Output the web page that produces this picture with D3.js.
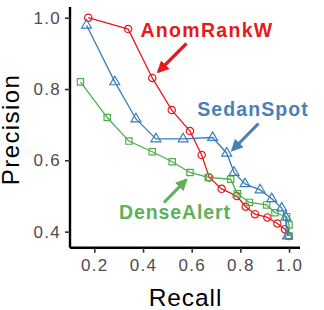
<!DOCTYPE html>
<html>
<head>
<meta charset="utf-8">
<script src="https://d3js.org/d3.v7.min.js"></script>
<style>
body { margin: 0; background: #fff; }
text { font-family: "Liberation Sans", Arial, sans-serif; }
</style>
</head>
<body>
<div id="svg"></div>
<script>
// precision / recall values
var anomX = [0.175, 0.339, 0.438, 0.518, 0.593, 0.641, 0.672, 0.723, 0.785, 0.822, 0.860, 0.911, 0.952, 0.983, 0.998];
var anomY = [1.000, 0.968, 0.831, 0.741, 0.682, 0.615, 0.552, 0.520, 0.500, 0.470, 0.449, 0.440, 0.423, 0.407, 0.388];

var sedanX = [0.168, 0.284, 0.371, 0.453, 0.565, 0.686, 0.744, 0.774, 0.819, 0.881, 0.929, 0.970, 0.987, 0.994];
var sedanY = [0.979, 0.820, 0.716, 0.660, 0.660, 0.664, 0.620, 0.566, 0.534, 0.517, 0.492, 0.466, 0.440, 0.388];

var denseX = [0.143, 0.253, 0.342, 0.438, 0.520, 0.593, 0.668, 0.760, 0.788, 0.837, 0.908, 0.942, 0.990, 1.000, 1.000];
var denseY = [0.820, 0.720, 0.654, 0.624, 0.596, 0.566, 0.552, 0.547, 0.506, 0.482, 0.475, 0.453, 0.442, 0.419, 0.388];

var xTicks = [0.2, 0.4, 0.6, 0.8, 1.0];
var yTicks = [0.4, 0.6, 0.8, 1.0];

var width = 324;
var height = 310;

var x = d3.scaleLinear().domain([0.1, 1.045]).range([70, 300]);
var y = d3.scaleLinear().domain([0.355, 1.03]).range([247.7, 7]);

var svg = d3.select("#svg")
	.append("svg")
	.attr("width", width)
	.attr("height", height);

// axes
var gx = svg.append("g")
	.attr("transform", "translate(0," + y.range()[0] + ")")
	.call(d3.axisBottom(x).tickValues(xTicks).tickFormat(d3.format(".1f")).tickSize(5).tickPadding(6));
var gy = svg.append("g")
	.attr("transform", "translate(" + x.range()[0] + ",0)")
	.call(d3.axisLeft(y).tickValues(yTicks).tickFormat(d3.format(".1f")).tickSize(5).tickPadding(4));

[gx, gy].forEach(function(g) {
	g.select(".domain").attr("stroke", "#000").attr("stroke-width", 2.4);
	g.selectAll(".tick line").attr("stroke", "#333").attr("stroke-width", 1.6);
	g.selectAll(".tick text")
		.attr("fill", "#4d4d4d")
		.style("font-size", "17px")
		.style("letter-spacing", "1.3px");
});
gx.select(".domain").attr("d", "M" + x.range()[0] + ",0H" + x.range()[1]);
gy.select(".domain").attr("d", "M0," + y.range()[0] + "V" + y.range()[1]);

svg.append("text")
	.attr("x", 185.5)
	.attr("y", 306)
	.attr("text-anchor", "middle")
	.style("font-size", "24.5px")
	.style("letter-spacing", "0.9px")
	.text("Recall");

svg.append("text")
	.attr("transform", "translate(19,129.5) rotate(-90)")
	.attr("text-anchor", "middle")
	.style("font-size", "24px")
	.style("letter-spacing", "1.4px")
	.text("Precision");

var series = [
	{name: "AnomRankW", xs: anomX, ys: anomY, color: "#E41A1C", shape: "circle"},
	{name: "DenseAlert", xs: denseX, ys: denseY, color: "#4DAF4A", shape: "square"},
	{name: "SedanSpot", xs: sedanX, ys: sedanY, color: "#377EB8", shape: "triangle"}
];

var line = d3.line()
	.x(function(d) { return x(d[0]); })
	.y(function(d) { return y(d[1]); });

var symbols = {
	circle: d3.symbol().type(d3.symbolCircle).size(42),
	square: d3.symbol().type(d3.symbolSquare).size(40),
	triangle: d3.symbol().type(d3.symbolTriangle).size(42)
};

series.forEach(function(s) {
	var pts = s.xs.map(function(v, i) { return [v, s.ys[i]]; });
	svg.append("path")
		.datum(pts)
		.attr("d", line)
		.attr("fill", "none")
		.attr("stroke", s.color)
		.attr("stroke-width", 1.3);
	svg.append("g").selectAll("path")
		.data(pts)
		.enter()
		.append("path")
		.attr("transform", function(d) { return "translate(" + x(d[0]) + "," + y(d[1]) + ")"; })
		.attr("d", symbols[s.shape])
		.attr("fill", "none")
		.attr("stroke", s.color)
		.attr("stroke-width", 1.2);
});

// labels with arrows
var labels = [
	{text: "AnomRankW", color: "#E41A1C", tx: 207, ty: 36.5, ls: 1.3, from: [186.5, 43.5], to: [158.5, 71.5]},
	{text: "SedanSpot", color: "#4A7FBA", tx: 253, ty: 116, ls: 1.1, from: [258.5, 123.5], to: [232.5, 150]},
	{text: "DenseAlert", color: "#5DB159", tx: 175, ty: 218.5, ls: 0.9, from: [164, 202.5], to: [186, 180]}
];

var defs = svg.append("defs");
labels.forEach(function(l, i) {
	defs.append("marker")
		.attr("id", "arrow" + i)
		.attr("viewBox", "0 0 10 10")
		.attr("refX", 8)
		.attr("refY", 5)
		.attr("markerWidth", 3.8)
		.attr("markerHeight", 3.8)
		.attr("orient", "auto")
		.append("path")
		.attr("d", "M0,0L10,5L0,10Z")
		.attr("fill", l.color);

	svg.append("line")
		.attr("x1", l.from[0])
		.attr("y1", l.from[1])
		.attr("x2", l.to[0])
		.attr("y2", l.to[1])
		.attr("stroke", l.color)
		.attr("stroke-width", 3.2)
		.attr("marker-end", "url(#arrow" + i + ")");

	svg.append("text")
		.attr("x", l.tx)
		.attr("y", l.ty)
		.attr("text-anchor", "middle")
		.attr("fill", l.color)
		.style("font-size", "19.5px")
		.style("font-weight", "bold")
		.style("letter-spacing", l.ls + "px")
		.text(l.text);
});
</script>
</body>
</html>
